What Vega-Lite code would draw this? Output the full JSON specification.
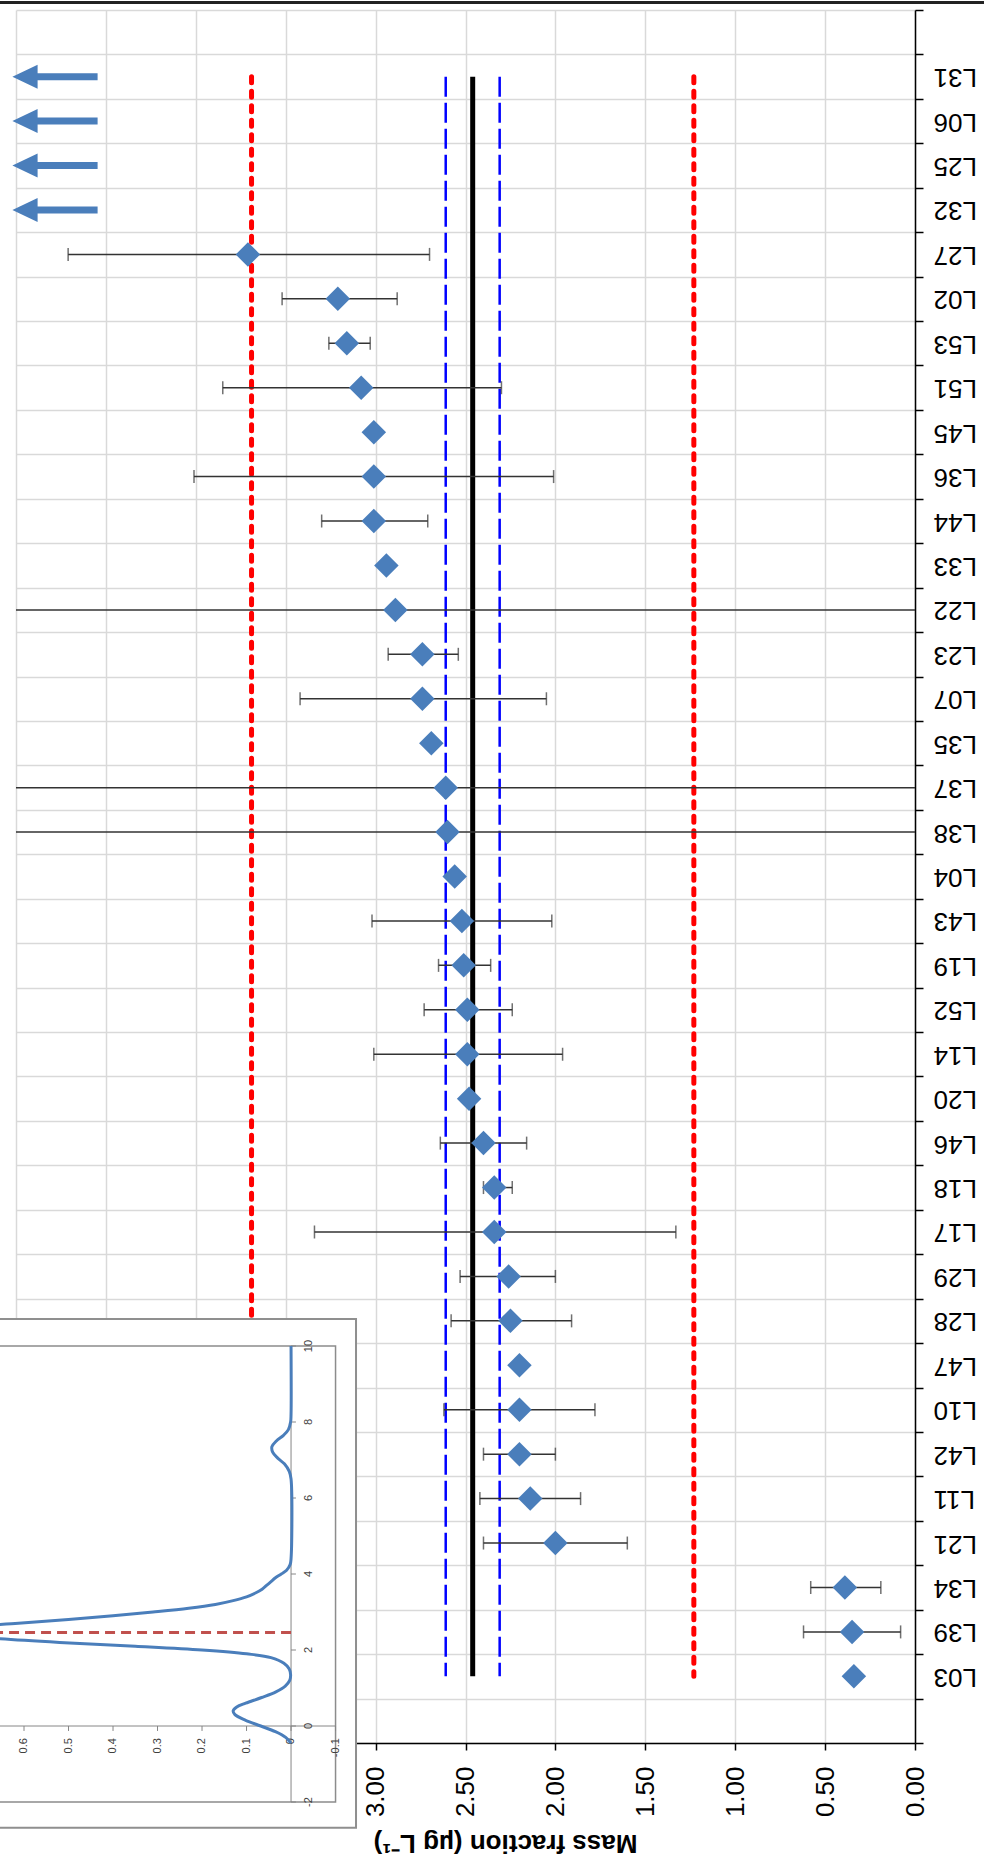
{
  "$schema": "https://vega.github.io/schema/vega-lite/v6.json",
  "width": 899,
  "height": 1733,
  "autosize": {"type": "none"},
  "padding": {"left": 16, "top": 10, "right": 69, "bottom": 123},
  "background": "white",
  "config": {"view": {"stroke": null}, "font": "Liberation Sans"},
  "datasets": {
    "labs": [
      {"lab": "L27", "mf": 3.71, "lo": 2.70, "hi": 4.71},
      {"lab": "L02", "mf": 3.21, "lo": 2.88, "hi": 3.52},
      {"lab": "L53", "mf": 3.16, "lo": 3.03, "hi": 3.26},
      {"lab": "L51", "mf": 3.08, "lo": 2.30, "hi": 3.85},
      {"lab": "L45", "mf": 3.01, "lo": null, "hi": null},
      {"lab": "L36", "mf": 3.01, "lo": 2.01, "hi": 4.01},
      {"lab": "L44", "mf": 3.01, "lo": 2.71, "hi": 3.30},
      {"lab": "L33", "mf": 2.94, "lo": null, "hi": null},
      {"lab": "L22", "mf": 2.89, "lo": -0.5, "hi": 6.0},
      {"lab": "L23", "mf": 2.74, "lo": 2.54, "hi": 2.93},
      {"lab": "L07", "mf": 2.74, "lo": 2.05, "hi": 3.42},
      {"lab": "L35", "mf": 2.69, "lo": null, "hi": null},
      {"lab": "L37", "mf": 2.61, "lo": -0.5, "hi": 6.0},
      {"lab": "L38", "mf": 2.60, "lo": -0.5, "hi": 6.0},
      {"lab": "L04", "mf": 2.56, "lo": null, "hi": null},
      {"lab": "L43", "mf": 2.52, "lo": 2.02, "hi": 3.02},
      {"lab": "L19", "mf": 2.51, "lo": 2.36, "hi": 2.65},
      {"lab": "L52", "mf": 2.49, "lo": 2.24, "hi": 2.73},
      {"lab": "L14", "mf": 2.49, "lo": 1.96, "hi": 3.01},
      {"lab": "L20", "mf": 2.48, "lo": null, "hi": null},
      {"lab": "L46", "mf": 2.40, "lo": 2.16, "hi": 2.64},
      {"lab": "L18", "mf": 2.34, "lo": 2.24, "hi": 2.40},
      {"lab": "L17", "mf": 2.34, "lo": 1.33, "hi": 3.34},
      {"lab": "L29", "mf": 2.26, "lo": 2.00, "hi": 2.53},
      {"lab": "L28", "mf": 2.25, "lo": 1.91, "hi": 2.58},
      {"lab": "L47", "mf": 2.20, "lo": null, "hi": null},
      {"lab": "L10", "mf": 2.20, "lo": 1.78, "hi": 2.62},
      {"lab": "L42", "mf": 2.20, "lo": 2.00, "hi": 2.40},
      {"lab": "L11", "mf": 2.14, "lo": 1.86, "hi": 2.42},
      {"lab": "L21", "mf": 2.00, "lo": 1.60, "hi": 2.40},
      {"lab": "L34", "mf": 0.39, "lo": 0.19, "hi": 0.58},
      {"lab": "L39", "mf": 0.35, "lo": 0.08, "hi": 0.62},
      {"lab": "L03", "mf": 0.34, "lo": null, "hi": null}
    ],
    "offscale": [
      {"lab": "L31", "edge": 5},
      {"lab": "L06", "edge": 5},
      {"lab": "L25", "edge": 5},
      {"lab": "L32", "edge": 5}
    ],
    "refs": [
      {"kind": "limit", "v": 1.23, "from": "L31", "to": "L03"},
      {"kind": "limit", "v": 3.69, "from": "L31", "to": "L03"},
      {"kind": "uncert", "v": 2.31, "from": "L31", "to": "L03"},
      {"kind": "uncert", "v": 2.61, "from": "L31", "to": "L03"},
      {"kind": "assigned", "v": 2.46, "from": "L31", "to": "L03"}
    ],
    "kde": [
      {"v": -0.45, "d": 0}, {"v": -0.3, "d": 0.012}, {"v": -0.15, "d": 0.035}, {"v": 0, "d": 0.068},
      {"v": 0.15, "d": 0.102}, {"v": 0.3, "d": 0.126}, {"v": 0.4, "d": 0.13}, {"v": 0.5, "d": 0.122},
      {"v": 0.6, "d": 0.102}, {"v": 0.75, "d": 0.066}, {"v": 0.9, "d": 0.034}, {"v": 1.05, "d": 0.013},
      {"v": 1.2, "d": 0.003}, {"v": 1.35, "d": 0.001}, {"v": 1.5, "d": 0.004}, {"v": 1.65, "d": 0.016},
      {"v": 1.8, "d": 0.045}, {"v": 1.9, "d": 0.1}, {"v": 2.0, "d": 0.2}, {"v": 2.1, "d": 0.35},
      {"v": 2.2, "d": 0.52}, {"v": 2.3, "d": 0.66}, {"v": 2.4, "d": 0.76}, {"v": 2.5, "d": 0.78},
      {"v": 2.6, "d": 0.72}, {"v": 2.7, "d": 0.62}, {"v": 2.8, "d": 0.5}, {"v": 2.9, "d": 0.4},
      {"v": 3.0, "d": 0.31}, {"v": 3.1, "d": 0.23}, {"v": 3.2, "d": 0.17}, {"v": 3.3, "d": 0.13},
      {"v": 3.4, "d": 0.1}, {"v": 3.5, "d": 0.08}, {"v": 3.6, "d": 0.065}, {"v": 3.7, "d": 0.055},
      {"v": 3.8, "d": 0.045}, {"v": 3.9, "d": 0.035}, {"v": 4.0, "d": 0.022}, {"v": 4.1, "d": 0.01},
      {"v": 4.25, "d": 0.002}, {"v": 4.4, "d": 0}, {"v": 6.5, "d": 0}, {"v": 6.7, "d": 0.004},
      {"v": 6.9, "d": 0.015}, {"v": 7.05, "d": 0.03}, {"v": 7.2, "d": 0.041}, {"v": 7.35, "d": 0.043},
      {"v": 7.5, "d": 0.033}, {"v": 7.65, "d": 0.017}, {"v": 7.8, "d": 0.006}, {"v": 8.0, "d": 0.001},
      {"v": 8.2, "d": 0}, {"v": 10, "d": 0}
    ],
    "dticks": [
      {"d": -0.1, "t": "-0.1"}, {"d": 0, "t": "0"}, {"d": 0.1, "t": "0.1"}, {"d": 0.2, "t": "0.2"},
      {"d": 0.3, "t": "0.3"}, {"d": 0.4, "t": "0.4"}, {"d": 0.5, "t": "0.5"}, {"d": 0.6, "t": "0.6"}
    ],
    "vticks": [
      {"v": -2, "t": "-2"}, {"v": 0, "t": "0"}, {"v": 2, "t": "2"}, {"v": 4, "t": "4"},
      {"v": 6, "t": "6"}, {"v": 8, "t": "8"}, {"v": 10, "t": "10"}
    ]
  },
  "layer": [
    {
      "layer": [
        {
          "data": {"name": "refs"},
          "transform": [{"filter": "datum.kind == 'limit'"}],
          "mark": {"type": "rule", "color": "#FF0000", "strokeWidth": 5, "strokeDash": [6, 8.5], "strokeCap": "round"},
          "encoding": {
            "x": {
              "field": "v", "type": "quantitative",
              "scale": {"domain": [0, 5], "reverse": true, "nice": false, "zero": false},
              "axis": {
                "orient": "bottom",
                "values": [0, 0.5, 1, 1.5, 2, 2.5, 3, 3.5, 4, 4.5, 5],
                "format": ".2f",
                "labelAngle": 270, "labelAlign": "right", "labelBaseline": "middle",
                "labelFontSize": 26, "labelColor": "#000", "labelPadding": 16,
                "labelFlush": false, "labelOverlap": false,
                "tickSize": 7, "tickColor": "#000", "tickWidth": 1.5,
                "domainColor": "#000", "domainWidth": 1.5,
                "grid": true, "gridColor": "#D9D9D9", "gridWidth": 1.5,
                "title": "Mass fraction (µg L⁻¹)",
                "titleFontSize": 26, "titleFontWeight": "bold", "titleColor": "#000",
                "titleAngle": 180, "titleAlign": "center", "titleBaseline": "middle",
                "titleX": 489, "titleY": 99
              }
            },
            "y": {
              "field": "from", "type": "nominal",
              "scale": {
                "type": "band",
                "domain": [" ", "L31", "L06", "L25", "L32", "L27", "L02", "L53", "L51", "L45", "L36", "L44", "L33", "L22", "L23", "L07", "L35", "L37", "L38", "L04", "L43", "L19", "L52", "L14", "L20", "L46", "L18", "L17", "L29", "L28", "L47", "L10", "L42", "L11", "L21", "L34", "L39", "L03", "  "],
                "paddingInner": 0, "paddingOuter": 0
              },
              "axis": {
                "orient": "right",
                "labelAngle": 180, "labelAlign": "right", "labelBaseline": "middle",
                "labelFontSize": 26, "labelColor": "#000", "labelPadding": 10,
                "labelOverlap": false, "labelBound": false,
                "tickSize": 8, "tickColor": "#000", "tickWidth": 1.5, "tickBand": "extent",
                "domainColor": "#000", "domainWidth": 1.5,
                "grid": true, "gridColor": "#D9D9D9", "gridWidth": 1.5,
                "title": null
              }
            },
            "y2": {"field": "to"}
          }
        },
        {
          "data": {"name": "refs"},
          "transform": [{"filter": "datum.kind == 'uncert'"}],
          "mark": {"type": "rule", "color": "#0000FF", "strokeWidth": 2.5, "strokeDash": [20, 6]},
          "encoding": {
            "x": {"field": "v", "type": "quantitative"},
            "y": {"field": "from", "type": "nominal"},
            "y2": {"field": "to"}
          }
        },
        {
          "data": {"name": "refs"},
          "transform": [{"filter": "datum.kind == 'assigned'"}],
          "mark": {"type": "rule", "color": "#000000", "strokeWidth": 5},
          "encoding": {
            "x": {"field": "v", "type": "quantitative"},
            "y": {"field": "from", "type": "nominal"},
            "y2": {"field": "to"}
          }
        },
        {
          "data": {"name": "labs"},
          "transform": [{"filter": "datum.lo != null"}],
          "mark": {"type": "rule", "color": "#333333", "strokeWidth": 1.5, "clip": true},
          "encoding": {
            "x": {"field": "lo", "type": "quantitative"},
            "x2": {"field": "hi"},
            "y": {"field": "lab", "type": "nominal"}
          }
        },
        {
          "data": {"name": "labs"},
          "transform": [
            {"filter": "datum.lo != null"},
            {"fold": ["lo", "hi"], "as": ["end", "ev"]}
          ],
          "mark": {"type": "tick", "color": "#333333", "thickness": 1.5, "size": 13, "clip": true},
          "encoding": {
            "x": {"field": "ev", "type": "quantitative"},
            "y": {"field": "lab", "type": "nominal"}
          }
        },
        {
          "data": {"name": "labs"},
          "mark": {"type": "point", "shape": "diamond", "filled": true, "size": 600, "color": "#4A7EBB", "opacity": 1},
          "encoding": {
            "x": {"field": "mf", "type": "quantitative"},
            "y": {"field": "lab", "type": "nominal"}
          }
        },
        {
          "data": {"name": "offscale"},
          "mark": {"type": "point", "shape": "M-0.3,0L1.8,-1L1.8,-0.29L6.8,-0.29L6.8,0.29L1.8,0.29L1.8,1Z", "filled": true, "size": 576, "color": "#4A7EBB", "opacity": 1},
          "encoding": {
            "x": {"field": "edge", "type": "quantitative"},
            "y": {"field": "lab", "type": "nominal"}
          }
        }
      ]
    },
    {
      "data": {"values": [{}]},
      "layer": [
        {
          "mark": {"type": "rect", "fill": "white", "stroke": "#8F8F8F", "strokeWidth": 2},
          "encoding": {
            "x": {"datum": 1.5, "type": "quantitative", "scale": {"domain": [-1.402, 0.618], "reverse": true, "nice": false, "zero": false}, "axis": null},
            "x2": {"datum": -0.146},
            "y": {"datum": 10.71, "type": "quantitative", "scale": {"domain": [-0.447, 45.158], "nice": false, "zero": false}, "axis": null},
            "y2": {"datum": -2.68}
          }
        },
        {
          "mark": {"type": "rect", "fill": "white", "fillOpacity": 0, "stroke": "#8C8C8C", "strokeWidth": 1.5},
          "encoding": {
            "x": {"datum": 1.5, "type": "quantitative", "axis": null},
            "x2": {"datum": -0.1},
            "y": {"datum": 10, "type": "quantitative", "axis": null},
            "y2": {"datum": -2}
          }
        },
        {
          "mark": {"type": "rule", "color": "#868686", "strokeWidth": 1},
          "encoding": {
            "x": {"datum": 0, "type": "quantitative", "axis": null},
            "y": {"datum": -2, "type": "quantitative", "axis": null},
            "y2": {"datum": 10}
          }
        },
        {
          "mark": {"type": "rule", "color": "#868686", "strokeWidth": 1},
          "encoding": {
            "x": {"datum": -0.1, "type": "quantitative", "axis": null},
            "x2": {"datum": 1.5},
            "y": {"datum": 0, "type": "quantitative", "axis": null}
          }
        },
        {
          "data": {"name": "dticks"},
          "mark": {"type": "rule", "color": "#868686", "strokeWidth": 1},
          "encoding": {
            "x": {"field": "d", "type": "quantitative", "axis": null},
            "y": {"datum": 0, "type": "quantitative", "axis": null},
            "y2": {"datum": -0.13}
          }
        },
        {
          "data": {"name": "dticks"},
          "mark": {"type": "text", "angle": 270, "align": "right", "baseline": "middle", "fontSize": 11, "color": "#404040"},
          "encoding": {
            "x": {"field": "d", "type": "quantitative", "axis": null},
            "y": {"datum": -0.32, "type": "quantitative", "axis": null},
            "text": {"field": "t"}
          }
        },
        {
          "data": {"name": "vticks"},
          "mark": {"type": "rule", "color": "#868686", "strokeWidth": 1},
          "encoding": {
            "y": {"field": "v", "type": "quantitative", "axis": null},
            "x": {"datum": 0, "type": "quantitative", "axis": null},
            "x2": {"datum": -0.011}
          }
        },
        {
          "data": {"name": "vticks"},
          "mark": {"type": "text", "angle": 270, "align": "center", "baseline": "middle", "fontSize": 11, "color": "#404040"},
          "encoding": {
            "y": {"field": "v", "type": "quantitative", "axis": null},
            "x": {"datum": -0.04, "type": "quantitative", "axis": null},
            "text": {"field": "t"}
          }
        },
        {
          "mark": {"type": "rule", "color": "#C0504D", "strokeWidth": 3, "strokeDash": [10, 6]},
          "encoding": {
            "x": {"datum": 0, "type": "quantitative", "axis": null},
            "x2": {"datum": 1.5},
            "y": {"datum": 2.46, "type": "quantitative", "axis": null}
          }
        },
        {
          "data": {"name": "kde"},
          "mark": {"type": "line", "color": "#4A7EBB", "strokeWidth": 3, "interpolate": "catmull-rom"},
          "encoding": {
            "x": {"field": "d", "type": "quantitative", "axis": null},
            "y": {"field": "v", "type": "quantitative", "axis": null},
            "order": {"field": "v", "type": "quantitative"}
          }
        },
        {
          "mark": {"type": "rule", "color": "#222222", "strokeWidth": 3},
          "encoding": {
            "x": {"datum": 1.0, "type": "quantitative", "axis": null},
            "x2": {"datum": -2.0},
            "y": {"datum": 45.355, "type": "quantitative", "axis": null}
          }
        }
      ]
    }
  ],
  "resolve": {"scale": {"x": "independent", "y": "independent"}}
}
